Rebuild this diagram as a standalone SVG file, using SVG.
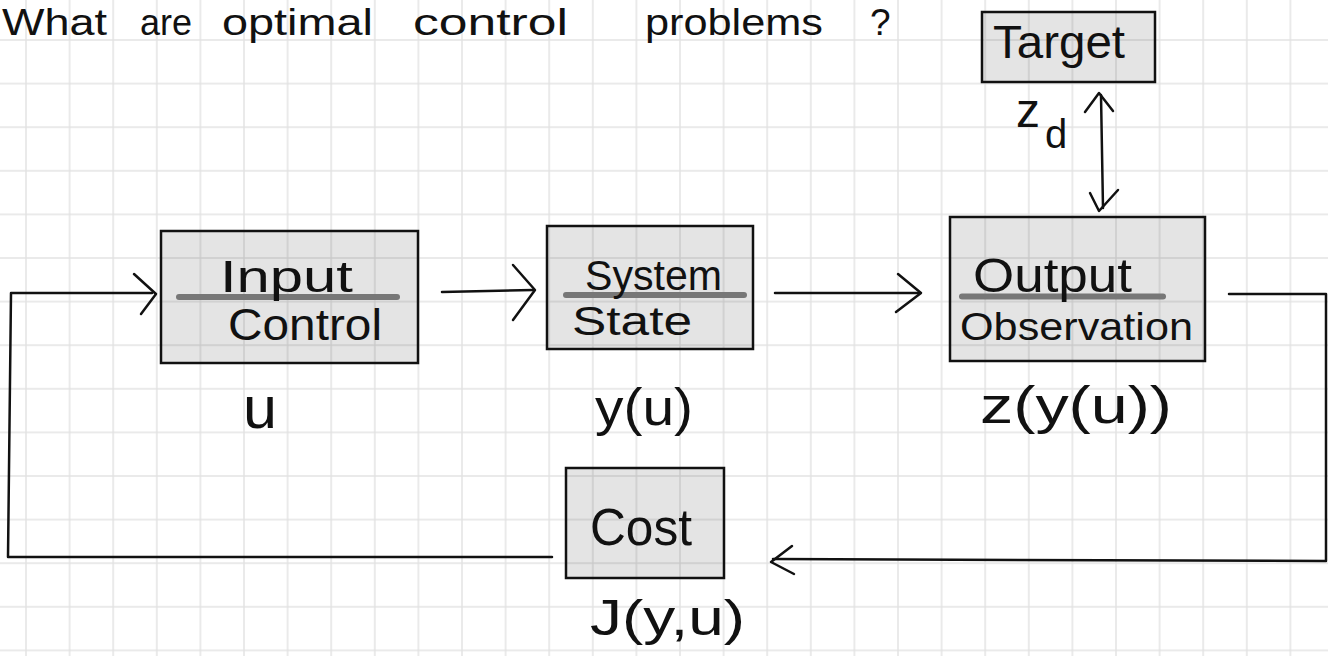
<svg xmlns="http://www.w3.org/2000/svg" width="1328" height="656" viewBox="0 0 1328 656">
  <defs>
    <pattern id="grid" x="4.2" y="18.2" width="43.6" height="43.6" patternUnits="userSpaceOnUse">
      <path d="M21.8 0 V43.6 M0 21.8 H43.6" stroke="#e3e3e3" stroke-width="1.5" fill="none"/>
    </pattern>
  </defs>
  <style>
    .box { fill: #000; fill-opacity: 0.105; stroke: #111; stroke-width: 2.5; }
    .div { stroke: #777; stroke-width: 6; stroke-linecap: round; }
    .t { font-family: "Liberation Sans", "DejaVu Sans", sans-serif; fill: #111; }
    .h { font-size: 37px; }
    .c { fill: none; stroke: #111; stroke-width: 2.5; stroke-linecap: round; stroke-linejoin: round; }
  </style>
  <rect width="1328" height="656" fill="#fff"/>
  <rect width="1328" height="656" fill="url(#grid)"/>

  <g id="title">
    <text class="t h" x="2" y="35" textLength="105" lengthAdjust="spacingAndGlyphs">What</text>
    <text class="t h" x="140" y="35" textLength="52" lengthAdjust="spacingAndGlyphs">are</text>
    <text class="t h" x="222" y="35" textLength="151" lengthAdjust="spacingAndGlyphs">optimal</text>
    <text class="t h" x="413" y="35" textLength="155" lengthAdjust="spacingAndGlyphs">control</text>
    <text class="t h" x="645" y="35" textLength="178" lengthAdjust="spacingAndGlyphs">problems</text>
    <text class="t h" x="870" y="35">?</text>
  </g>

  <g id="target">
    <rect class="box" x="982" y="12" width="173" height="70"/>
    <text class="t" font-size="46" x="993" y="58" textLength="132" lengthAdjust="spacingAndGlyphs">Target</text>
  </g>

  <g id="input">
    <rect class="box" x="161" y="231" width="257" height="132"/>
    <line class="div" x1="179" y1="297" x2="397" y2="297"/>
    <text class="t" font-size="44" x="220" y="292" textLength="133" lengthAdjust="spacingAndGlyphs">Input</text>
    <text class="t" font-size="44" x="228" y="340" textLength="154" lengthAdjust="spacingAndGlyphs">Control</text>
  </g>

  <g id="system">
    <rect class="box" x="547" y="226" width="206" height="123"/>
    <line class="div" x1="566" y1="295" x2="744" y2="295"/>
    <text class="t" font-size="42" x="585" y="290" textLength="137" lengthAdjust="spacingAndGlyphs">System</text>
    <text class="t" font-size="40" x="572" y="335" textLength="120" lengthAdjust="spacingAndGlyphs">State</text>
  </g>

  <g id="output">
    <rect class="box" x="950" y="217" width="255" height="144"/>
    <line class="div" x1="962" y1="296.5" x2="1163" y2="296.5"/>
    <text class="t" font-size="48" x="973" y="292" textLength="159" lengthAdjust="spacingAndGlyphs">Output</text>
    <text class="t" font-size="38" x="960" y="340" textLength="233" lengthAdjust="spacingAndGlyphs">Observation</text>
  </g>

  <g id="cost">
    <rect class="box" x="566" y="468" width="158" height="110"/>
    <text class="t" font-size="52" x="590" y="545" textLength="102" lengthAdjust="spacingAndGlyphs">Cost</text>
  </g>

  <g id="labels">
    <text class="t" font-size="60" x="243" y="428" textLength="34" lengthAdjust="spacingAndGlyphs">u</text>
    <text class="t" font-size="52" x="595" y="425" textLength="98" lengthAdjust="spacingAndGlyphs">y(u)</text>
    <text class="t" font-size="52" x="980" y="423" textLength="192" lengthAdjust="spacingAndGlyphs">z(y(u))</text>
    <text class="t" font-size="50" x="590" y="635" textLength="155" lengthAdjust="spacingAndGlyphs">J(y,u)</text>
    <text class="t" font-size="48" x="1016" y="127">z<tspan font-size="40" x="1045" y="148">d</tspan></text>
  </g>

  <g id="connectors">
    <polyline class="c" points="552,557 8,557 11,293 152,293"/>
    <polyline class="c" points="134,274 156,294 141,314"/>
    <line class="c" x1="442" y1="292" x2="533" y2="290"/>
    <polyline class="c" points="513,265 535,290 513,320"/>
    <line class="c" x1="775" y1="293" x2="919" y2="293"/>
    <polyline class="c" points="898,274 921,293 896,312"/>
    <polyline class="c" points="1229,294 1326,294 1326,561 773,559"/>
    <polyline class="c" points="792,546 771,562 794,574"/>
    <line class="c" x1="1101" y1="95" x2="1103" y2="208"/>
    <polyline class="c" points="1085,112 1099,93 1113,111"/>
    <polyline class="c" points="1090,193 1099,211 1118,190"/>
  </g>
</svg>
